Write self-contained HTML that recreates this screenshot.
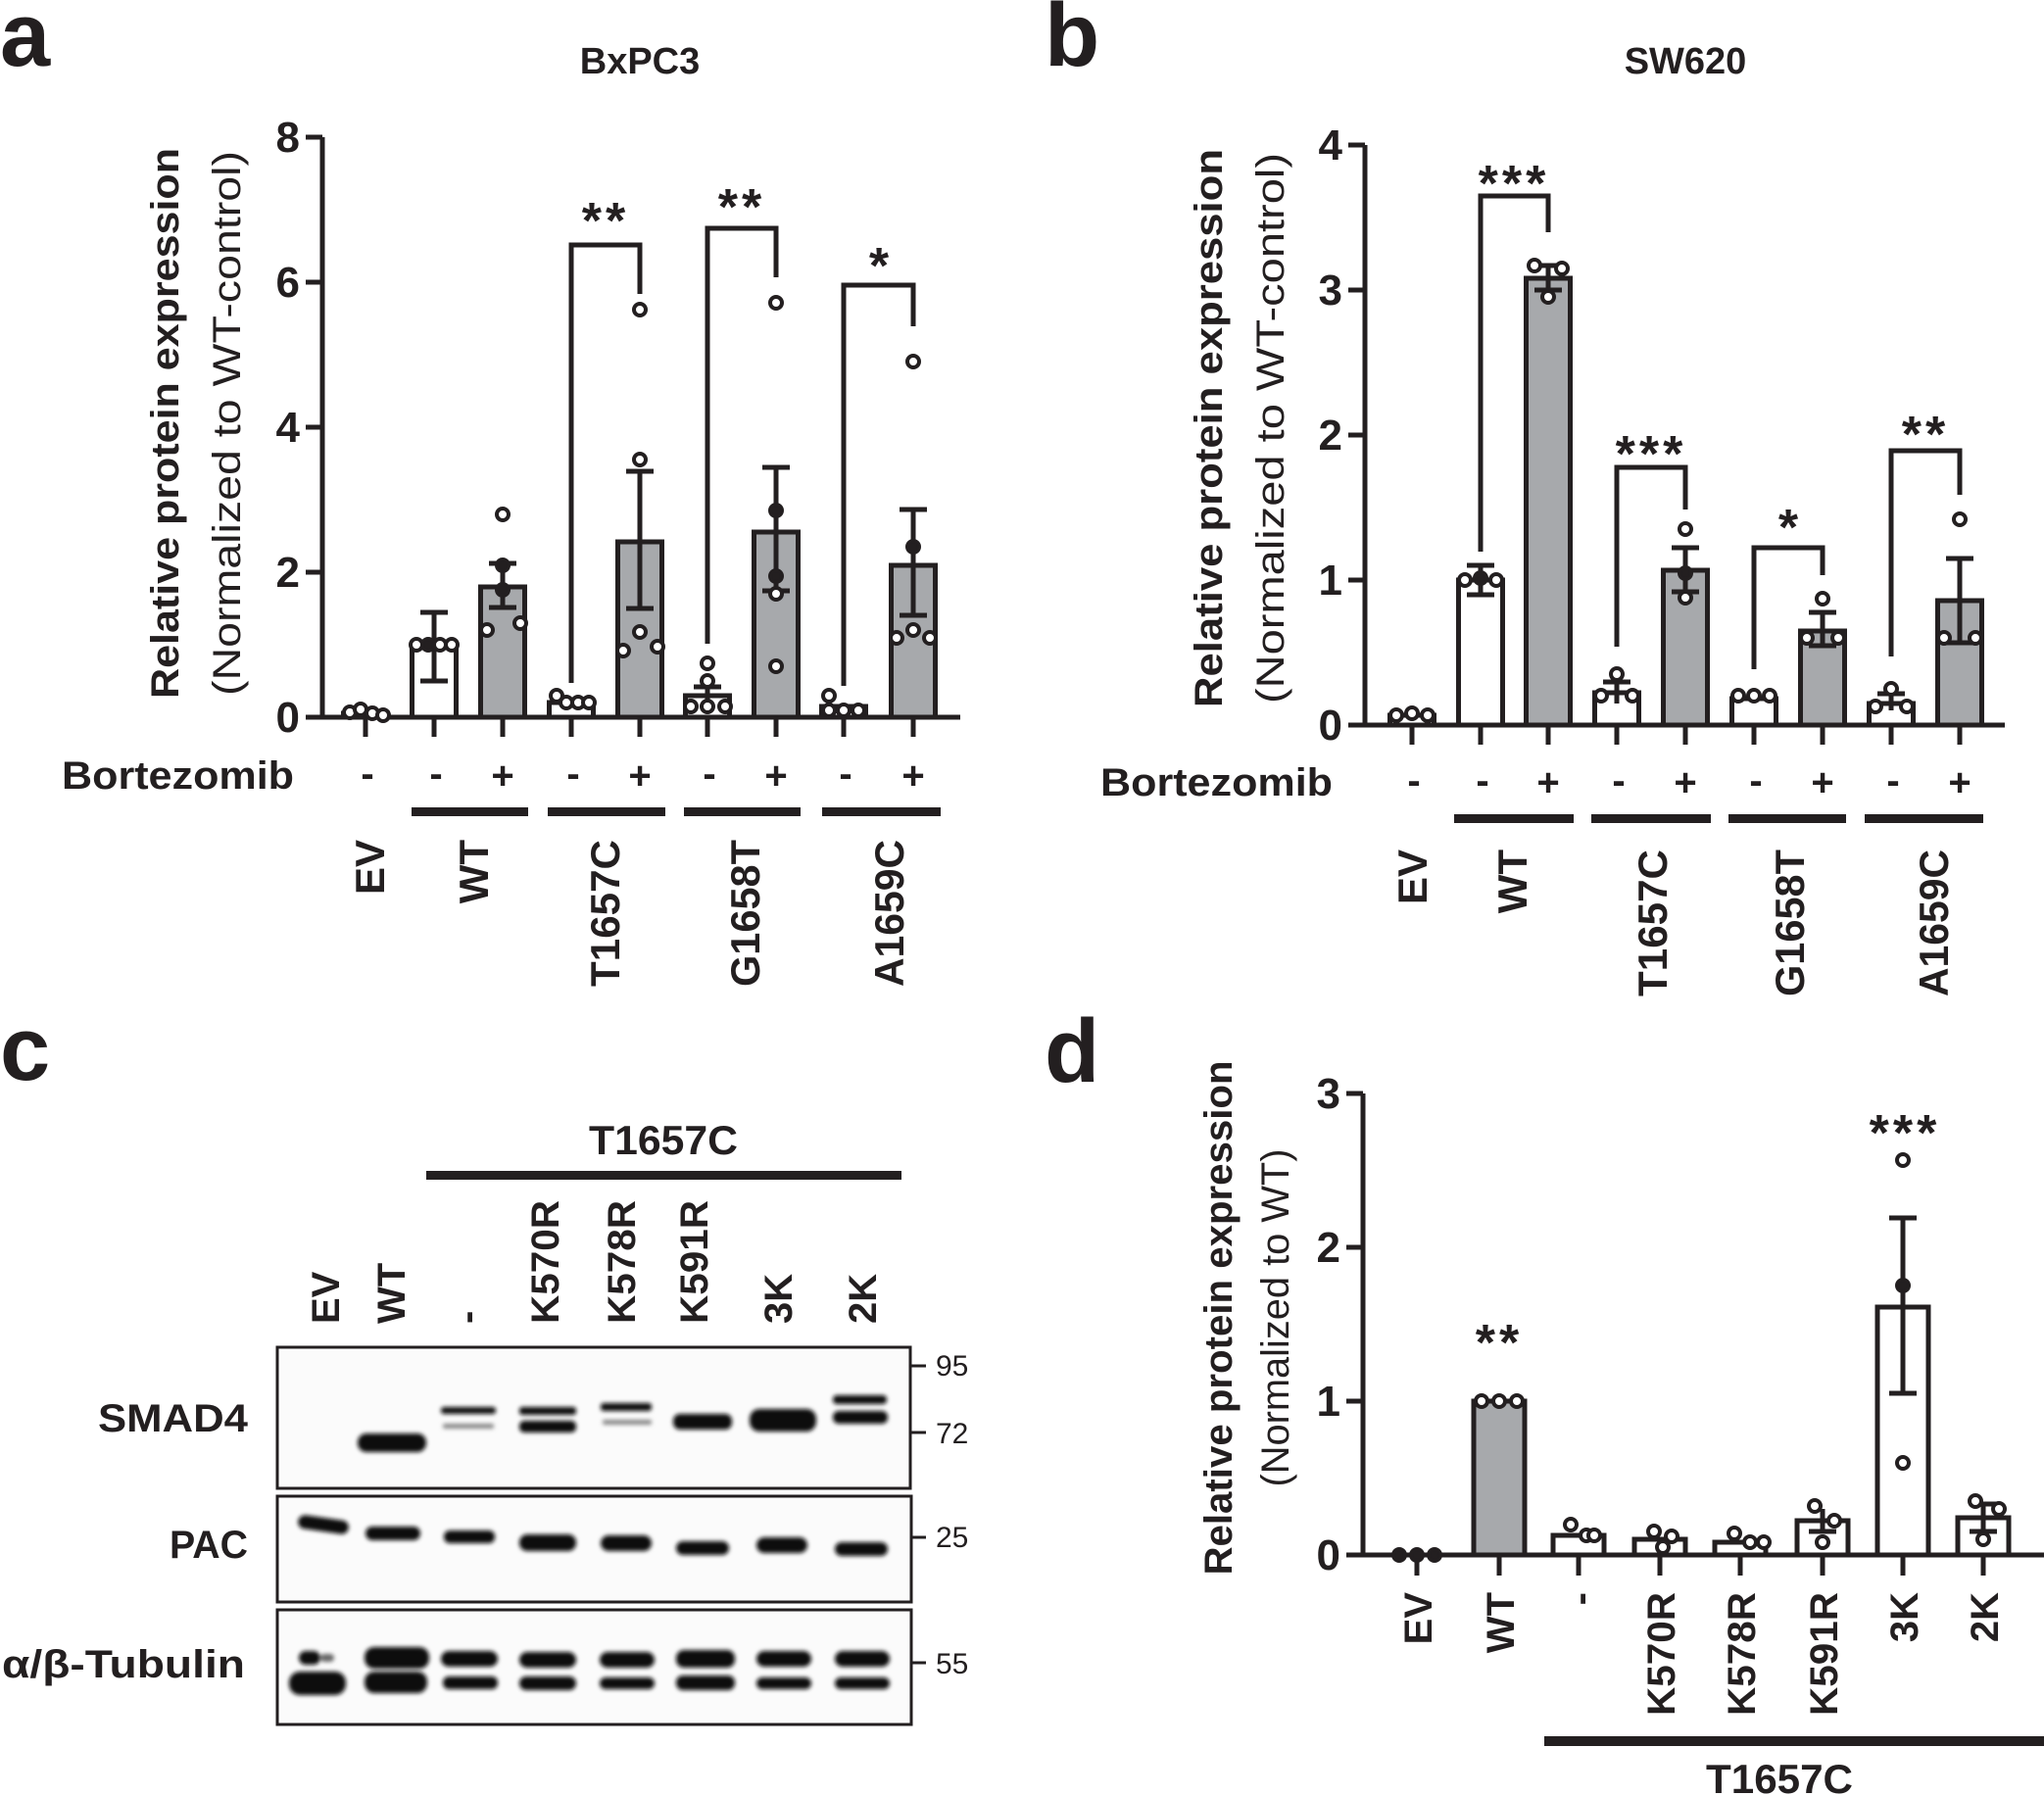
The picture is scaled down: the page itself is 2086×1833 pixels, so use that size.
<!DOCTYPE html>
<html><head><meta charset="utf-8"><style>
html,body{margin:0;padding:0;background:#fff}
svg{display:block}
text{font-family:"Liberation Sans",sans-serif;fill:#231f20}
.b{font-weight:bold}
</style></head><body>
<svg width="2086" height="1833" viewBox="0 0 2086 1833" xmlns="http://www.w3.org/2000/svg">
<defs><filter id="bl" x="-20%" y="-50%" width="140%" height="200%"><feGaussianBlur stdDeviation="2"/></filter></defs>
<g stroke="#231f20" fill="none">
<!-- ============ PANEL A ============ -->
<g stroke-width="5">
<path d="M329 140 V732 H980"/>
<path d="M329 140 H312 M329 288 H312 M329 436 H312 M329 584 H312 M329 732 H312"/>
<path d="M373 732 V752 M443 732 V752 M513 732 V752 M583 732 V752 M653 732 V752 M722 732 V752 M792 732 V752 M861 732 V752 M932 732 V752"/>
</g>
<g stroke-width="5">
<rect x="350.5" y="728" width="45" height="4" fill="#fff"/>
<rect x="420.5" y="658" width="45" height="74" fill="#fff"/>
<rect x="490.5" y="599" width="45" height="133" fill="#a7a9ac"/>
<rect x="560.5" y="717" width="45" height="15" fill="#fff"/>
<rect x="630.5" y="553" width="45" height="179" fill="#a7a9ac"/>
<rect x="699.5" y="710" width="45" height="22" fill="#fff"/>
<rect x="769.5" y="543" width="45" height="189" fill="#a7a9ac"/>
<rect x="838.5" y="721" width="45" height="11" fill="#fff"/>
<rect x="909.5" y="577" width="45" height="155" fill="#a7a9ac"/>
<path d="M443 625 V695 M429 625 H457 M429 695 H457"/>
<path d="M513 575 V620 M499 575 H527 M499 620 H527"/>
<path d="M653 481 V621 M639 481 H667 M639 621 H667"/>
<path d="M722 701 V719 M708 701 H736"/>
<path d="M792 477 V603 M778 477 H806 M778 603 H806"/>
<path d="M932 520 V628 M918 520 H946 M918 628 H946"/>
<path d="M583 697 V250 H653 V300 M722 657 V233 H792 V283 M861 700 V291 H932 V333"/>
</g>
<g stroke-width="4" fill="#fff">
<circle cx="357" cy="727" r="6"/><circle cx="368" cy="724" r="6"/><circle cx="380" cy="728" r="6"/><circle cx="391" cy="730" r="6"/>
<circle cx="425" cy="658" r="6"/><circle cx="437" cy="658" r="6" fill="#231f20"/><circle cx="449" cy="658" r="6"/><circle cx="461" cy="658" r="6"/>
<circle cx="513" cy="525" r="6"/><circle cx="513" cy="577" r="6" fill="#231f20"/><circle cx="513" cy="602" r="6" fill="#231f20"/><circle cx="497" cy="643" r="6"/><circle cx="531" cy="636" r="6"/>
<circle cx="568" cy="710" r="6"/><circle cx="578" cy="717" r="6"/><circle cx="590" cy="717" r="6"/><circle cx="601" cy="717" r="6"/>
<circle cx="653" cy="316" r="6"/><circle cx="653" cy="469" r="6"/><circle cx="653" cy="645" r="6"/><circle cx="636" cy="664" r="6"/><circle cx="671" cy="660" r="6"/>
<circle cx="722" cy="677" r="6"/><circle cx="722" cy="695" r="6"/><circle cx="705" cy="721" r="6"/><circle cx="722" cy="721" r="6"/><circle cx="740" cy="721" r="6"/>
<circle cx="792" cy="309" r="6"/><circle cx="792" cy="521" r="6" fill="#231f20"/><circle cx="792" cy="588" r="6" fill="#231f20"/><circle cx="792" cy="606" r="6"/><circle cx="792" cy="680" r="6"/>
<circle cx="846" cy="710" r="6"/><circle cx="846" cy="725" r="6"/><circle cx="861" cy="725" r="6"/><circle cx="876" cy="725" r="6"/>
<circle cx="932" cy="369" r="6"/><circle cx="932" cy="558" r="6" fill="#231f20"/><circle cx="932" cy="643" r="6"/><circle cx="915" cy="651" r="6"/><circle cx="949" cy="651" r="6"/>
</g>

<!-- ============ PANEL B ============ -->
<g stroke-width="5">
<path d="M1393 148 V740 H2046"/>
<path d="M1393 148 H1376 M1393 296 H1376 M1393 444 H1376 M1393 592 H1376 M1393 740 H1376"/>
<path d="M1441 740 V760 M1511 740 V760 M1580 740 V760 M1650 740 V760 M1720 740 V760 M1790 740 V760 M1860 740 V760 M1930 740 V760 M2000 740 V760"/>
<rect x="1418.5" y="730" width="45" height="10" fill="#fff"/>
<rect x="1488.5" y="592" width="45" height="148" fill="#fff"/>
<rect x="1557.5" y="284" width="45" height="456" fill="#a7a9ac"/>
<rect x="1627.5" y="707" width="45" height="33" fill="#fff"/>
<rect x="1697.5" y="582" width="45" height="158" fill="#a7a9ac"/>
<rect x="1767.5" y="713" width="45" height="27" fill="#fff"/>
<rect x="1837.5" y="644" width="45" height="96" fill="#a7a9ac"/>
<rect x="1907.5" y="718" width="45" height="22" fill="#fff"/>
<rect x="1977.5" y="613" width="45" height="127" fill="#a7a9ac"/>
<path d="M1511 577 V607 M1497 577 H1525 M1497 607 H1525"/>
<path d="M1580 271 V296 M1566 271 H1594 M1566 296 H1594"/>
<path d="M1650 696 V718 M1636 696 H1664"/>
<path d="M1720 559 V604 M1706 559 H1734 M1706 604 H1734"/>
<path d="M1860 625 V659 M1846 625 H1874 M1846 659 H1874"/>
<path d="M1930 708 V725 M1916 708 H1944"/>
<path d="M2000 570 V656 M1986 570 H2014 M1986 656 H2014"/>
<path d="M1511 563 V200 H1580 V237 M1650 660 V477 H1720 V520 M1790 683 V559 H1860 V587 M1930 670 V460 H2000 V505"/>
</g>
<g stroke-width="4" fill="#fff">
<circle cx="1425" cy="730" r="6"/><circle cx="1441" cy="728" r="6"/><circle cx="1457" cy="730" r="6"/>
<circle cx="1495" cy="592" r="6"/><circle cx="1511" cy="590" r="6" fill="#231f20"/><circle cx="1527" cy="592" r="6"/>
<circle cx="1566" cy="271" r="6"/><circle cx="1594" cy="274" r="6"/><circle cx="1580" cy="303" r="6"/>
<circle cx="1650" cy="688" r="6"/><circle cx="1634" cy="710" r="6"/><circle cx="1666" cy="710" r="6"/>
<circle cx="1720" cy="540" r="6"/><circle cx="1720" cy="585" r="6" fill="#231f20"/><circle cx="1720" cy="610" r="6"/>
<circle cx="1774" cy="710" r="6"/><circle cx="1790" cy="710" r="6"/><circle cx="1806" cy="710" r="6"/>
<circle cx="1860" cy="611" r="6"/><circle cx="1844" cy="651" r="6"/><circle cx="1876" cy="651" r="6"/>
<circle cx="1930" cy="703" r="6"/><circle cx="1914" cy="721" r="6"/><circle cx="1946" cy="721" r="6"/>
<circle cx="2000" cy="530" r="6"/><circle cx="1984" cy="651" r="6"/><circle cx="2016" cy="651" r="6"/>
</g>

<!-- ============ PANEL D ============ -->
<g stroke-width="5">
<path d="M1391 1116 V1587 H2086"/>
<path d="M1391 1116 H1374 M1391 1273 H1374 M1391 1430 H1374 M1391 1587 H1374"/>
<path d="M1446 1587 V1608 M1530 1587 V1608 M1611 1587 V1608 M1694 1587 V1608 M1776 1587 V1608 M1860 1587 V1608 M1942 1587 V1608 M2024 1587 V1608"/>
<rect x="1504" y="1430" width="52" height="157" fill="#a7a9ac"/>
<rect x="1585" y="1567" width="52" height="20" fill="#fff"/>
<rect x="1668" y="1571" width="52" height="16" fill="#fff"/>
<rect x="1750" y="1574" width="52" height="13" fill="#fff"/>
<rect x="1834" y="1552" width="52" height="35" fill="#fff"/>
<rect x="1916" y="1334" width="52" height="253" fill="#fff"/>
<rect x="1998" y="1549" width="52" height="38" fill="#fff"/>
<path d="M1942 1243 V1422 M1928 1243 H1956 M1928 1422 H1956"/>
<path d="M1860 1540 V1563 M1846 1563 H1874"/>
<path d="M2024 1535 V1563 M2010 1563 H2038 M2010 1535 H2038"/>
</g>
<g stroke-width="4" fill="#fff">
<circle cx="1428" cy="1587" r="6" fill="#231f20"/><circle cx="1446" cy="1587" r="6" fill="#231f20"/><circle cx="1464" cy="1587" r="6" fill="#231f20"/>
<circle cx="1512" cy="1430" r="6"/><circle cx="1530" cy="1430" r="6"/><circle cx="1548" cy="1430" r="6"/>
<circle cx="1603" cy="1556" r="6"/><circle cx="1619" cy="1567" r="6"/><circle cx="1627" cy="1567" r="6"/>
<circle cx="1688" cy="1563" r="6"/><circle cx="1706" cy="1568" r="6"/><circle cx="1697" cy="1579" r="6"/>
<circle cx="1770" cy="1565" r="6"/><circle cx="1786" cy="1574" r="6"/><circle cx="1800" cy="1574" r="6"/>
<circle cx="1852" cy="1537" r="6"/><circle cx="1872" cy="1552" r="6"/><circle cx="1860" cy="1574" r="6"/>
<circle cx="1942" cy="1184" r="6"/><circle cx="1942" cy="1312" r="6" fill="#231f20"/><circle cx="1942" cy="1493" r="6"/>
<circle cx="2016" cy="1532" r="6"/><circle cx="2040" cy="1540" r="6"/><circle cx="2024" cy="1571" r="6"/>
</g>
</g>

<g fill="#231f20">
<rect x="420" y="824" width="119" height="9"/><rect x="559" y="824" width="120" height="9"/><rect x="698" y="824" width="119" height="9"/><rect x="839" y="824" width="121" height="9"/>
<rect x="1484" y="831" width="122" height="9"/><rect x="1624" y="831" width="122" height="9"/><rect x="1764" y="831" width="120" height="9"/><rect x="1903" y="831" width="121" height="9"/>
<rect x="1576" y="1772" width="510" height="10"/>
<rect x="435" y="1195" width="485" height="9"/>
</g>

<!-- ============ TEXT A ============ -->
<text x="0" y="67" class="b" font-size="92">a</text>
<text x="653" y="75" class="b" font-size="38" text-anchor="middle">BxPC3</text>
<g class="b" font-size="44" text-anchor="end">
<text x="306" y="155">8</text><text x="306" y="303">6</text><text x="306" y="451">4</text><text x="306" y="599">2</text><text x="306" y="747">0</text>
</g>
<text transform="translate(182 432) rotate(-90)" class="b" font-size="40" text-anchor="middle" textLength="562" lengthAdjust="spacingAndGlyphs">Relative protein expression</text>
<text transform="translate(245 432) rotate(-90)" font-size="40" text-anchor="middle" textLength="556" lengthAdjust="spacingAndGlyphs">(Normalized to WT-control)</text>
<g class="b" font-size="52" text-anchor="middle">
<text x="618" y="243" letter-spacing="4">**</text><text x="757" y="229" letter-spacing="4">**</text><text x="897" y="289">*</text>
</g>
<g class="b" font-size="40" text-anchor="middle">
<text x="63" y="805" text-anchor="start" textLength="237" lengthAdjust="spacingAndGlyphs">Bortezomib</text>
<text x="375" y="803">-</text><text x="445" y="803">-</text><text x="513" y="805">+</text><text x="585" y="803">-</text><text x="653" y="805">+</text><text x="724" y="803">-</text><text x="792" y="805">+</text><text x="863" y="803">-</text><text x="932" y="805">+</text>
</g>
<g class="b" font-size="42" text-anchor="end">
<text transform="translate(392 857) rotate(-90)">EV</text>
<text transform="translate(498 857) rotate(-90)">WT</text>
<text transform="translate(632 857) rotate(-90)" textLength="150" lengthAdjust="spacingAndGlyphs">T1657C</text>
<text transform="translate(775 857) rotate(-90)" textLength="150" lengthAdjust="spacingAndGlyphs">G1658T</text>
<text transform="translate(922 857) rotate(-90)" textLength="150" lengthAdjust="spacingAndGlyphs">A1659C</text>
</g>

<!-- ============ TEXT B ============ -->
<text x="1066" y="67" class="b" font-size="92">b</text>
<text x="1720" y="75" class="b" font-size="38" text-anchor="middle">SW620</text>
<g class="b" font-size="44" text-anchor="end">
<text x="1370" y="163">4</text><text x="1370" y="311">3</text><text x="1370" y="459">2</text><text x="1370" y="607">1</text><text x="1370" y="755">0</text>
</g>
<text transform="translate(1247 437) rotate(-90)" class="b" font-size="40" text-anchor="middle" textLength="570" lengthAdjust="spacingAndGlyphs">Relative protein expression</text>
<text transform="translate(1310 437) rotate(-90)" font-size="40" text-anchor="middle" textLength="562" lengthAdjust="spacingAndGlyphs">(Normalized to WT-control)</text>
<g class="b" font-size="52" text-anchor="middle">
<text x="1545" y="205" letter-spacing="4">***</text><text x="1685" y="481" letter-spacing="4">***</text><text x="1825" y="556">*</text><text x="1965" y="461" letter-spacing="4">**</text>
</g>
<g class="b" font-size="40" text-anchor="middle">
<text x="1123" y="812" text-anchor="start" textLength="237" lengthAdjust="spacingAndGlyphs">Bortezomib</text>
<text x="1443" y="810">-</text><text x="1513" y="810">-</text><text x="1580" y="812">+</text><text x="1652" y="810">-</text><text x="1720" y="812">+</text><text x="1792" y="810">-</text><text x="1860" y="812">+</text><text x="1932" y="810">-</text><text x="2000" y="812">+</text>
</g>
<g class="b" font-size="42" text-anchor="end">
<text transform="translate(1456 867) rotate(-90)">EV</text>
<text transform="translate(1558 867) rotate(-90)">WT</text>
<text transform="translate(1701 867) rotate(-90)" textLength="150" lengthAdjust="spacingAndGlyphs">T1657C</text>
<text transform="translate(1841 867) rotate(-90)" textLength="150" lengthAdjust="spacingAndGlyphs">G1658T</text>
<text transform="translate(1988 867) rotate(-90)" textLength="150" lengthAdjust="spacingAndGlyphs">A1659C</text>
</g>

<!-- ============ PANEL C ============ -->
<text x="0" y="1102" class="b" font-size="92">c</text>
<text x="677" y="1178" class="b" font-size="42" text-anchor="middle" textLength="152" lengthAdjust="spacingAndGlyphs">T1657C</text>
<g class="b" font-size="40" text-anchor="start">
<text transform="translate(346 1351) rotate(-90)">EV</text>
<text transform="translate(413 1351) rotate(-90)">WT</text>
<text transform="translate(490 1351) rotate(-90)">-</text>
<text transform="translate(570 1351) rotate(-90)" textLength="126" lengthAdjust="spacingAndGlyphs">K570R</text>
<text transform="translate(648 1351) rotate(-90)" textLength="126" lengthAdjust="spacingAndGlyphs">K578R</text>
<text transform="translate(722 1351) rotate(-90)" textLength="126" lengthAdjust="spacingAndGlyphs">K591R</text>
<text transform="translate(808 1351) rotate(-90)">3K</text>
<text transform="translate(894 1351) rotate(-90)">2K</text>
</g>
<g class="b" font-size="40" text-anchor="end">
<text x="253" y="1461" textLength="153" lengthAdjust="spacingAndGlyphs">SMAD4</text>
<text x="253" y="1590" textLength="80" lengthAdjust="spacingAndGlyphs">PAC</text>
<text x="250" y="1712" textLength="248" lengthAdjust="spacingAndGlyphs">α/β-Tubulin</text>
</g>
<g fill="#fbfbfb" stroke="#231f20" stroke-width="3">
<rect x="283" y="1375" width="646" height="144"/>
<rect x="283" y="1527" width="647" height="108"/>
<rect x="283" y="1643" width="647" height="117"/>
</g>
<g stroke="#231f20" stroke-width="3">
<path d="M929 1394 H945 M929 1462 H945 M930 1569 H945 M930 1697 H945"/>
</g>
<g font-size="30" fill="#231f20">
<text x="955" y="1404">95</text><text x="955" y="1473">72</text><text x="955" y="1579">25</text><text x="955" y="1708">55</text>
</g>
<g fill="#111" filter="url(#bl)">
<rect x="365" y="1463" width="70" height="19" rx="9"/>
<rect x="450" y="1436" width="56" height="7" rx="3"/><rect x="452" y="1453" width="52" height="5" rx="2" fill="#888"/>
<rect x="530" y="1436" width="58" height="8" rx="3"/><rect x="530" y="1450" width="58" height="12" rx="5"/>
<rect x="613" y="1432" width="52" height="8" rx="3"/><rect x="615" y="1449" width="50" height="5" rx="2" fill="#888"/>
<rect x="687" y="1443" width="60" height="16" rx="7"/>
<rect x="765" y="1438" width="68" height="23" rx="10"/>
<rect x="850" y="1424" width="55" height="9" rx="4"/><rect x="850" y="1440" width="56" height="13" rx="6"/>
<rect x="304" y="1549" width="52" height="14" rx="7" transform="rotate(8 330 1556)"/>
<rect x="373" y="1558" width="56" height="14" rx="7"/>
<rect x="453" y="1562" width="52" height="13" rx="6"/>
<rect x="530" y="1566" width="58" height="17" rx="8"/>
<rect x="613" y="1567" width="52" height="16" rx="8"/>
<rect x="690" y="1573" width="54" height="14" rx="7"/>
<rect x="772" y="1569" width="52" height="16" rx="8"/>
<rect x="852" y="1574" width="54" height="14" rx="7"/>
<rect x="305" y="1685" width="22" height="14" rx="7"/><rect x="327" y="1688" width="14" height="8" rx="4" fill="#666"/>
<rect x="295" y="1706" width="58" height="24" rx="11"/>
<rect x="372" y="1681" width="66" height="22" rx="10"/><rect x="372" y="1706" width="64" height="22" rx="10"/>
<rect x="450" y="1685" width="58" height="16" rx="8"/><rect x="452" y="1711" width="56" height="13" rx="6"/>
<rect x="530" y="1686" width="58" height="16" rx="8"/><rect x="530" y="1711" width="58" height="14" rx="7"/>
<rect x="612" y="1686" width="56" height="16" rx="8"/><rect x="612" y="1712" width="56" height="12" rx="6"/>
<rect x="690" y="1684" width="60" height="18" rx="8"/><rect x="690" y="1710" width="60" height="15" rx="7"/>
<rect x="772" y="1685" width="56" height="16" rx="8"/><rect x="772" y="1712" width="56" height="12" rx="6"/>
<rect x="852" y="1685" width="56" height="16" rx="8"/><rect x="852" y="1712" width="56" height="12" rx="6"/>
</g>

<!-- ============ TEXT D ============ -->
<text x="1066" y="1104" class="b" font-size="92">d</text>
<g class="b" font-size="44" text-anchor="end">
<text x="1368" y="1131">3</text><text x="1368" y="1288">2</text><text x="1368" y="1445">1</text><text x="1368" y="1602">0</text>
</g>
<text transform="translate(1257 1345) rotate(-90)" class="b" font-size="40" text-anchor="middle" textLength="525" lengthAdjust="spacingAndGlyphs">Relative protein expression</text>
<text transform="translate(1315 1345) rotate(-90)" font-size="40" text-anchor="middle" textLength="345" lengthAdjust="spacingAndGlyphs">(Normalized to WT)</text>
<g class="b" font-size="52" text-anchor="middle">
<text x="1530" y="1388" letter-spacing="4">**</text><text x="1944" y="1174" letter-spacing="4">***</text>
</g>
<g class="b" font-size="40" text-anchor="end">
<text transform="translate(1461 1625) rotate(-90)">EV</text>
<text transform="translate(1545 1625) rotate(-90)">WT</text>
<text transform="translate(1626 1625) rotate(-90)">-</text>
<text transform="translate(1709 1625) rotate(-90)" textLength="126" lengthAdjust="spacingAndGlyphs">K570R</text>
<text transform="translate(1791 1625) rotate(-90)" textLength="126" lengthAdjust="spacingAndGlyphs">K578R</text>
<text transform="translate(1875 1625) rotate(-90)" textLength="126" lengthAdjust="spacingAndGlyphs">K591R</text>
<text transform="translate(1957 1625) rotate(-90)">3K</text>
<text transform="translate(2039 1625) rotate(-90)">2K</text>
</g>
<text x="1816" y="1830" class="b" font-size="42" text-anchor="middle" textLength="150" lengthAdjust="spacingAndGlyphs">T1657C</text>
</svg>
</body></html>
